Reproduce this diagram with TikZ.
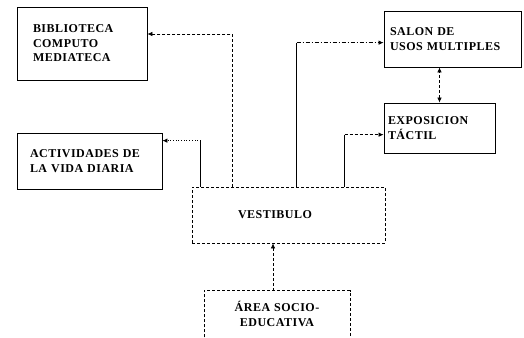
\documentclass[tikz,border=0pt]{standalone}
\usepackage{fontspec}
\newfontfamily\planfont{Liberation Serif}[LetterSpace=4]
\usepackage{tikz}
\usetikzlibrary{arrows.meta,positioning,calc}
\tikzset{
  Sbox/.style={draw, line width=0.9pt, align=left, inner ysep=0pt,
               font=\planfont\bfseries\fontsize{12}{14.5}\selectfont},
  Dbox/.style={Sbox, densely dashed, line width=0.7pt},
  Sline/.style={line width=1.1pt},
  Narr/.style={-{Latex[length=5pt,width=4.5pt]}, line width=0.7pt,
               dash pattern=on 4pt off 2pt on 1pt off 2pt},
  Darr/.style={Narr, densely dashed}
}
\begin{document}
\begin{tikzpicture}[x=1pt,y=-1pt]
  \useasboundingbox (0,0) rectangle (524,337);

  \node[Sbox, minimum width=130pt, minimum height=73pt, text width=98pt] (bib) at (82,43.5)
    {BIBLIOTECA\\COMPUTO\\MEDIATECA};
  \node[Sbox, minimum width=137pt, minimum height=56pt, text width=125pt] (salon) at (452.5,39)
    {SALON DE\\USOS MULTIPLES};
  \node[Sbox, minimum width=111pt, minimum height=50pt, text width=103pt] (expo) at (439.5,128)
    {EXPOSICION\\TÁCTIL};
  \node[Sbox, minimum width=145pt, minimum height=56pt, text width=119pt] (act) at (89.5,161)
    {ACTIVIDADES DE\\LA VIDA DIARIA};
  \node[Dbox, minimum width=193pt, minimum height=56pt, text width=101pt] (vest) at (288.5,215)
    {VESTIBULO};
  \node[Sbox, draw=none, align=center, minimum width=145pt, minimum height=46pt,
        text width=120pt] (area) at (277,314)
    {ÁREA SOCIO-\\EDUCATIVA};
  \draw[Dbox] (area.south west) -- (area.north west) -- (area.north east) -- (area.south east);

  % vestibulo hacia las salas
  \draw[Darr] ($(vest.north west)+(41,0)$) |- ($(bib.east)+(0,-9.5)$);
  \draw[Sline] ($(vest.north west)+(9,0)$) -- ++(0,-46) coordinate (actturn);
  \draw[Narr, dotted] (actturn) -- (actturn -| act.east);
  \draw[Sline] ($(vest.north west)+(105,0)$) -- ++(0,-144) coordinate (salonturn);
  \draw[Narr] (salonturn) -- (salonturn -| salon.west);
  \draw[Sline] ($(vest.north west)+(153,0)$) -- ++(0,-52) coordinate (expoturn);
  \draw[Darr] (expoturn) -- (expoturn -| expo.west);
  \draw[Darr, {Latex[length=5pt,width=4.5pt]}-{Latex[length=5pt,width=4.5pt]}]
    (expo.north) -- (expo.north |- salon.south);
  \draw[Darr] ($(area.north)+(-4,0)$) -- ($(vest.south)+(-15.5,0)$);
\end{tikzpicture}
\end{document}
